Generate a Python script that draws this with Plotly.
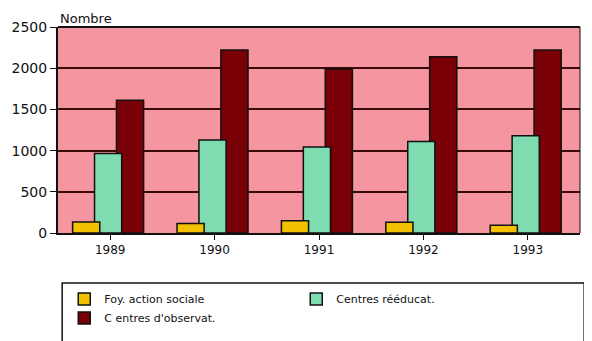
import plotly.graph_objects as go

years = ["1989", "1990", "1991", "1992", "1993"]
foy_action_sociale = [135, 115, 150, 130, 95]
centres_reeducat = [965, 1130, 1045, 1110, 1180]
centres_observat = [1610, 2220, 1990, 2140, 2220]

y_ticks = [0, 500, 1000, 1500, 2000, 2500]

FONT = "DejaVu Sans, Liberation Sans, Arial, sans-serif"
W = 0.26
fig = go.Figure()
fig.add_trace(go.Bar(x=years, y=centres_observat, name="C entres d'observat.",
                     marker=dict(color="#780006", line=dict(color="#111", width=1.5)),
                     width=W, offset=0.06))
fig.add_trace(go.Bar(x=years, y=centres_reeducat, name="Centres rééducat.",
                     marker=dict(color="#7EDCB0", line=dict(color="#111", width=1.5)),
                     width=W, offset=-0.15))
fig.add_trace(go.Bar(x=years, y=foy_action_sociale, name="Foy. action sociale",
                     marker=dict(color="#F2C200", line=dict(color="#111", width=1.5)),
                     width=W, offset=-0.36))

fig.update_layout(
    width=584, height=333,
    margin=dict(l=50, r=12, t=19, b=108, autoexpand=False),
    barmode="overlay",
    paper_bgcolor="white",
    plot_bgcolor="#F4959F",
    font=dict(family=FONT, color="#111", size=13),
    showlegend=True,
    legend=dict(orientation="h", traceorder="reversed", x=0.012, y=-0.25,
                xanchor="left", yanchor="top", borderwidth=0,
                bgcolor="rgba(0,0,0,0)", entrywidth=187, font=dict(size=11, family=FONT),
                itemwidth=30, tracegroupgap=2),
    annotations=[dict(text="Nombre", x=0, y=1, xref="paper", yref="paper",
                      xanchor="left", yanchor="bottom", showarrow=False,
                      font=dict(size=13, family=FONT), yshift=-1)],
)
fig.update_xaxes(type="category", showline=True, linecolor="#111", linewidth=2,
                 ticks="outside", ticklen=5, tickcolor="#111",
                 tickfont=dict(size=12, family=FONT), mirror=False)
fig.update_yaxes(range=[0, 2500], tickvals=y_ticks, showgrid=True, gridcolor="#3A0A0A",
                 gridwidth=1.5, showline=True, linecolor="#111", linewidth=2,
                 ticks="outside", ticklen=6, tickcolor="#111",
                 tickfont=dict(size=14, family=FONT), zeroline=False)
fig.add_shape(type="line", xref="paper", yref="paper", x0=0, x1=1, y0=1, y1=1,
              line=dict(color="#111", width=2))
fig.add_shape(type="line", xref="paper", yref="paper", x0=1, x1=1, y0=0, y1=1,
              line=dict(color="#111", width=1))
# legend frame
fig.add_shape(type="rect", xref="paper", yref="paper", x0=0.008, x1=1.008,
              y0=-0.6, y1=-0.243, line=dict(color="#111", width=1.5),
              fillcolor="rgba(0,0,0,0)", layer="below")
fig.add_shape(type="line", xref="paper", yref="paper", x0=1.0115, x1=1.0115,
              y0=-0.6, y1=-0.25, line=dict(color="#111", width=4))

fig.write_html("out.html")
